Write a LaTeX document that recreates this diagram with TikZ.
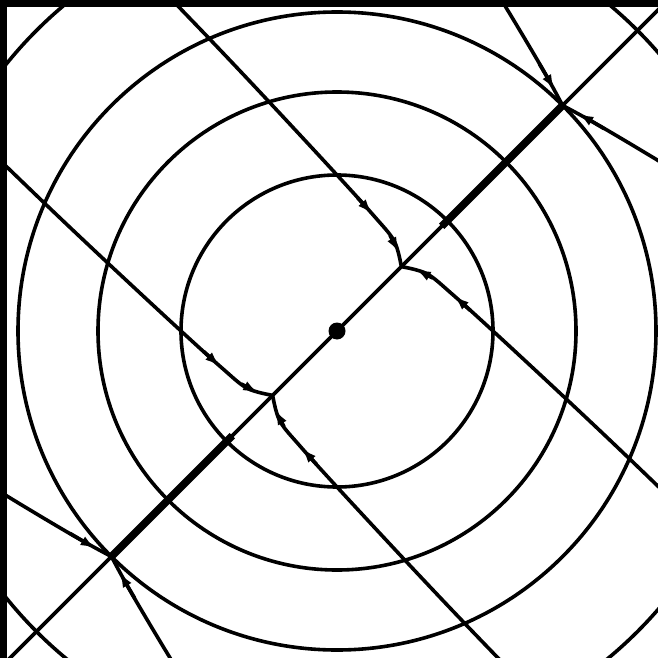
\documentclass[tikz,border=0pt]{standalone}
\usetikzlibrary{arrows.meta}
\tikzset{>={Latex[length=15pt,width=10pt]},
orbit/.style={line width=3.6pt},
heavy/.style={line width=7.5pt}}

\begin{document}
\begin{tikzpicture}[x=1pt,y=-1pt]
\useasboundingbox (0,0) rectangle (658,658);
\clip (0,0) rectangle (658,658);
\coordinate (O) at (337,331);
% level curves
\foreach \r in {156,239,319,425}
  \draw[orbit] (O) circle[radius=\r];
\begin{scope}[shift={(O)},rotate=45]
  \coordinate (A) at (91,0);   \coordinate (B) at (-91,0);
  \coordinate (C) at (319,0);  \coordinate (D) at (-319,0);
  \coordinate (a1) at (148,0); \coordinate (b1) at (-148,0);
  \coordinate (ne) at (520,0); \coordinate (sw) at (-520,0);
  % diagonal
  \draw[orbit] (sw) -- (ne);
  \draw[heavy] (a1) -- (C);
  \draw[heavy] (b1) -- (D);
\end{scope}
% branches into the saddles, four copies by symmetry
\foreach \su in {1,-1}
 \foreach \sv in {1,-1}
 {\begin{scope}[shift={(O)},rotate=45,xscale=\su,yscale=\sv]
   \draw[orbit] plot[smooth,tension=0.55] coordinates
     {(91,0) (104,-23) (107.5,-55) (110.5,-115) (114,-210) (116.5,-300) (119,-440)};
   \draw[orbit,->] (108.8,-80) -- (107.7,-58);
   \draw[orbit,->] (105,-30) -- (99.5,-12);
   \draw[orbit] plot[smooth,tension=0.55] coordinates
     {(319,0) (325,20) (332,45) (346,100) (364,175)};
   \draw[orbit,->] (332,-46) -- (324.5,-17);
  \end{scope}}
\fill (O) circle[radius=8.5];
% frame
\fill (0,0) rectangle (658,7);
\fill (0,0) rectangle (7,658);
\end{tikzpicture}
\end{document}
